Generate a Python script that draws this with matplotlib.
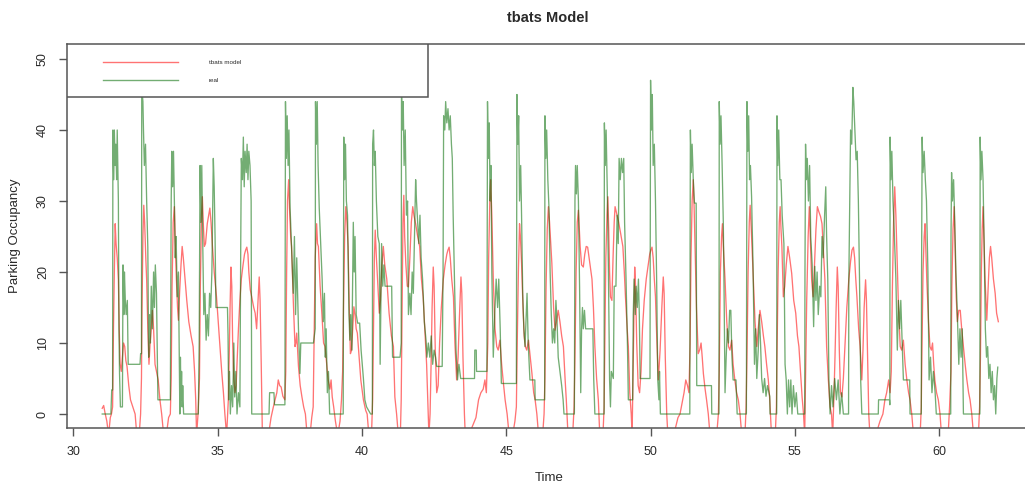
import matplotlib
matplotlib.use("Agg")
import matplotlib.pyplot as plt
from matplotlib.patches import Rectangle
from matplotlib.lines import Line2D

plt.rcParams['font.family'] = ['Liberation Sans', 'DejaVu Sans']

title = "tbats Model"
x_label = "Time"
y_label = "Parking Occupancy"
legend_labels = ["tbats model", "real"]
x_ticks = [30, 35, 40, 45, 50, 55, 60]
y_ticks = [0, 10, 20, 30, 40, 50]

# observed occupancy (time in days, value)
real_series = [
 (31.00,0),(31.30,0),(31.33,3.4),(31.36,3.4),(31.37,40),(31.40,33),(31.42,40),(31.45,35),(31.47,38),(31.50,33),(31.52,40),(31.56,30),(31.58,12),(31.60,5.7),(31.63,1),(31.70,1),(31.72,21),(31.75,14),(31.77,20),(31.80,16),(31.83,14),(31.87,16),(31.90,7),(32.31,7),(32.33,8.5),(32.36,8.5),
 (32.37,46),(32.41,44),(32.43,40),(32.46,35),(32.50,38),(32.54,30),(32.58,23.5),(32.61,8),(32.64,14),(32.67,10),(32.70,18),(32.74,12),(32.78,20),(32.81,15),(32.84,21),(32.88,17),(32.93,2),(33.36,2),
 (33.39,30),(33.41,37),(33.44,32),(33.47,37),(33.50,30),(33.53,22),(33.56,25),(33.60,16.5),(33.64,20),(33.69,0),(33.71,8),(33.73,2),(33.75,6),(33.77,1),(33.79,4),(33.82,0),(34.33,0),
 (34.36,10),(34.39,35),(34.42,27),(34.45,35),(34.48,25),(34.52,14),(34.56,17),(34.60,10.4),(34.64,14),(34.68,11),(34.72,17),(34.76,15),(34.80,20),(34.85,36),(34.88,32),(34.91,25),(34.94,15),(35.34,15),
 (35.36,11),(35.38,2),(35.41,6),(35.44,0),(35.48,4),(35.52,1),(35.56,10),(35.59,2.4),(35.63,6),(35.67,0),(35.72,3),(35.77,1),(35.80,24),(35.82,36),(35.86,33),(35.89,39),(35.92,32),(35.95,37),(35.99,34),(36.02,38),(36.05,33),(36.08,37),(36.12,35),(36.16,30),(36.18,0),
 (36.78,0),(36.80,3),(36.95,3),(36.97,1.3),(37.33,1.3),
 (37.35,44),(37.38,36),(37.41,42),(37.44,35),(37.47,40),(37.51,29),(37.56,23.5),(37.62,17),(37.66,25),(37.70,14),(37.74,22),(37.80,12),(37.85,5.7),(37.88,10),(38.32,10),
 (38.38,12),(38.39,44),(38.42,38),(38.45,44),(38.48,35),(38.52,29),(38.57,24),(38.62,19),(38.66,13),(38.70,17),(38.73,8),(38.76,12),(38.80,3),(38.84,6),(38.88,0),(39.35,0),
 (39.37,39),(39.40,33),(39.43,38),(39.46,30),(39.50,28),(39.55,14),(39.58,10.4),(39.61,14),(39.65,9),(39.70,27),(39.73,20),(39.76,25),(39.80,14),(39.85,12.8),(39.92,12.8),(39.97,9),(40.05,5),(40.10,2),(40.16,1),(40.30,0),
 (40.36,0),(40.37,38),(40.40,40),(40.43,35),(40.46,37),(40.50,30),(40.55,25),(40.60,24),(40.63,7),(40.68,24),(40.72,18),(40.76,21),(40.80,18),(41.03,18),(41.06,8),(41.32,8),
 (41.36,10),(41.37,46),(41.40,40),(41.43,44),(41.46,35),(41.50,40),(41.54,28),(41.58,30),(41.61,14),(41.66,17),(41.70,14),(41.74,20),(41.78,17),(41.82,25),(41.86,33),(41.89,30),(41.93,27),(41.97,24),(42.01,28),(42.05,22),(42.10,19),(42.16,13),(42.22,10.4),
 (42.25,8),(42.30,10),(42.35,8),(42.40,11),(42.45,7),(42.50,9),(42.55,8),(42.59,6.7),(42.78,6.7),(42.81,20),(42.83,42),(42.87,40),(42.90,44),(42.94,41),(42.98,43),(43.02,40),(43.06,42),(43.10,38),(43.13,36),(43.16,28),(43.21,18),(43.26,9),(43.31,4.8),(43.36,7),(43.42,5),(43.90,5),(43.91,9),(43.96,9),(43.97,6),(44.33,6),
 (44.35,44),(44.38,36),(44.41,41),(44.44,30),(44.47,35),(44.50,20),(44.55,8),(44.60,14),(44.65,19),(44.70,15),(44.74,19),(44.79,12),(44.83,4.3),(45.35,4.3),
 (45.37,45),(45.40,38),(45.43,42),(45.46,30),(45.50,35),(45.53,28),(45.57,17),(45.61,12),(45.65,9.5),(45.69,14),(45.72,17),(45.76,10),(45.82,4.8),(45.99,4.8),(46.00,2),(46.33,2),
 (46.34,42),(46.37,36),(46.40,40),(46.44,33),(46.48,29),(46.52,20),(46.56,14),(46.60,10),(46.64,12),(46.68,10),(46.72,16),(46.76,13),(46.80,8),(46.86,6),(46.92,4),(46.97,2),(47.00,0),(47.36,0),
 (47.38,30),(47.40,35),(47.43,31),(47.46,35),(47.50,30),(47.54,18),(47.58,3),(47.61,12),(47.64,15),(47.67,12),(47.71,14.6),(47.75,12),(48.00,12),(48.03,5),(48.07,0),(48.39,0),
 (48.40,41),(48.43,35),(48.46,40),(48.50,31.5),(48.54,20),(48.58,4.8),(48.61,1),(48.64,6),(48.71,5),(48.74,18),(48.80,18),(48.84,28),(48.88,24),(48.91,36),(48.95,33),(48.99,36),(49.03,34),(49.07,36),(49.10,27),(49.15,19),(49.20,9.5),(49.23,2),(49.38,2),(49.40,14),(49.43,19),(49.47,14),(49.50,18),(49.54,15),(49.58,19),(49.61,14),(49.64,5),(49.98,5),
 (49.99,30),(50.00,47),(50.03,40),(50.06,45),(50.09,35),(50.13,38),(50.17,30),(50.21,19),(50.25,4.8),(50.29,2),(50.31,6),(50.34,0),(51.36,0),
 (51.37,25),(51.38,40),(51.41,34),(51.44,38),(51.48,33),(51.52,29.7),(51.58,29.7),(51.60,4),(52.11,4),(52.12,0),(52.37,0),
 (52.38,44),(52.41,38),(52.44,42),(52.48,35),(52.52,27),(52.55,16),(52.58,3),(52.62,8),(52.66,12),(52.70,10),(52.74,14.6),(52.78,14.6),(52.82,8),(52.86,4.8),(52.96,4.8),(53.00,0),(53.32,0),
 (53.34,44),(53.37,37),(53.40,42),(53.43,33),(53.46,35),(53.50,30.6),(53.55,21),(53.60,7),(53.64,12),(53.68,5),(53.73,9),(53.77,14),(53.81,10),(53.85,5),(53.90,3),(53.95,5),(54.00,2.5),(54.05,4),(54.13,2.5),(54.14,0),(54.37,0),
 (54.38,42),(54.41,35),(54.44,40),(54.48,33),(54.52,33),(54.56,28),(54.62,24),(54.66,7),(54.70,4.8),(54.74,0),(54.78,4.8),(54.82,1),(54.86,4.8),(54.90,0),(54.95,4),(55.00,1),(55.05,3),(55.10,0),(55.34,0),
 (55.35,20),(55.37,38),(55.40,33),(55.43,36),(55.47,30),(55.51,35),(55.55,25),(55.60,21),(55.65,12.3),(55.69,20.8),(55.73,16),(55.77,20),(55.81,14),(55.86,18),(55.90,16.5),(55.94,25),(55.98,22),(56.03,28),(56.07,32),(56.10,25),(56.14,19),(56.18,4.8),(56.22,0),(56.27,4),(56.32,1),(56.38,5),(56.44,2),(56.50,4.8),(56.56,0),(56.62,3),(56.68,0),(56.86,0),
 (56.87,19),(56.90,30),(56.93,40),(56.97,38),(57.01,46),(57.04,44),(57.08,40),(57.12,35.8),(57.16,37),(57.20,30),(57.24,19),(57.28,4.8),(57.32,0),(57.89,0),(57.90,2),(58.28,2),
 (58.29,1.3),(58.30,39),(58.33,33),(58.36,37),(58.40,30),(58.44,26),(58.50,19),(58.55,9),(58.59,16),(58.63,12),(58.67,16),(58.72,10),(58.76,4.8),(58.98,4.8),(58.99,0),(59.38,0),
 (59.39,20),(59.41,39),(59.44,34),(59.48,37),(59.52,33),(59.56,30),(59.61,20),(59.65,4.8),(59.70,8),(59.75,3),(59.80,6),(59.86,3),(59.90,0),(60.40,0),
 (60.41,25),(60.43,34),(60.46,30),(60.50,33),(60.54,27),(60.58,20),(60.63,14),(60.68,7),(60.72,12),(60.76,8),(60.80,12),(60.84,0),(61.41,0),
 (61.42,39),(61.45,33),(61.48,37),(61.52,33),(61.56,23.5),(61.60,12),(61.64,8),(61.68,9.5),(61.72,5),(61.76,7),(61.80,3),(61.84,6),(61.88,2),(61.92,4),(61.96,0),(62.00,5),(62.03,6.6),
]

# tbats fitted values (time in days, value)
model_series = [
 (31.00,0.8),(31.05,1.2),(31.10,0.1),(31.16,-1),(31.22,-3),(31.28,-0.5),(31.32,0),(31.36,1),(31.39,12),(31.42,20),(31.45,26.8),(31.48,24),(31.52,22),(31.56,18.9),(31.59,12),(31.62,7.1),(31.66,6),(31.70,8),(31.74,10),(31.78,9.5),(31.82,7.5),(31.86,6.7),(31.92,4),(31.98,2),(32.06,1),(32.14,0),(32.20,-3),(32.28,-3),(32.33,0),(32.36,5),
 (32.38,15),(32.41,25),(32.44,29.4),(32.47,27),(32.51,22),(32.54,18.9),(32.58,12),(32.62,7),(32.66,10),(32.70,12),(32.74,14.6),(32.78,12),(32.83,7),(32.88,6),(32.94,4.8),(33.00,2),(33.06,0),(33.13,-3),(33.22,-3),(33.30,-0.5),(33.36,0),(33.39,5),
 (33.42,18),(33.46,27),(33.50,29.2),(33.53,24),(33.57,19),(33.61,15),(33.64,13.2),(33.68,17),(33.73,21),(33.77,23.6),(33.81,22),(33.87,19),(33.93,16),(34.00,13),(34.08,11),(34.15,9.5),(34.20,6),(34.24,2),(34.27,-3),(34.32,0),(34.37,5),
 (34.40,18),(34.44,28),(34.47,30.6),(34.50,27),(34.54,23.6),(34.58,24),(34.64,26.8),(34.69,28),(34.73,29),(34.77,27),(34.82,23.6),(34.88,20),(34.96,16.5),(35.02,13),(35.08,9.5),(35.14,6),(35.20,3),(35.25,0),(35.31,-3),
 (35.37,2),(35.40,8),(35.43,15),(35.46,20.7),(35.49,18),(35.52,10),(35.56,5),(35.60,3),(35.64,4),(35.68,8),(35.72,12),(35.77,16),(35.82,19),(35.88,21),(35.93,22.5),(35.97,23.1),(36.01,23.5),(36.05,22.5),(36.08,20),(36.13,17.5),(36.18,16.5),(36.25,15),(36.30,14.2),(36.35,12),(36.41,17),(36.44,19.3),(36.47,16),(36.51,7),(36.55,-3),(36.76,-3),(36.85,-0.5),(36.93,1),(36.99,2),(37.05,3),(37.10,4.8),(37.15,4),(37.20,3.8),(37.26,2.5),(37.33,2),
 (37.36,6),(37.39,20),(37.42,30),(37.46,33),(37.49,29),(37.53,25),(37.56,23.6),(37.62,16),(37.68,9.5),(37.71,10),(37.74,11.4),(37.77,9),(37.80,6.7),(37.86,4),(37.92,2.4),(37.98,1),(38.04,0),(38.10,-3),(38.20,-3),(38.26,-0.5),(38.31,1),
 (38.34,10),(38.38,22),(38.43,26.8),(38.46,24),(38.49,23.6),(38.55,18),(38.61,14.2),(38.67,10),(38.72,9.5),(38.78,7),(38.83,4.8),(38.89,3.5),(38.93,4.8),(38.97,2.4),(39.02,1),(39.08,-1),(39.16,-3),(39.24,-1),(39.29,2),(39.33,6),
 (39.36,15),(39.40,25),(39.44,29.2),(39.48,27),(39.52,23.6),(39.56,15),(39.60,8.5),(39.64,9),(39.68,12),(39.72,15.1),(39.76,14),(39.80,12),(39.84,11.4),(39.90,8),(39.96,4.8),(40.05,2),(40.13,0.5),(40.18,0),(40.24,-3),(40.33,-3),(40.37,2),
 (40.40,12),(40.43,22),(40.46,25.9),(40.50,22),(40.54,19),(40.60,14.2),(40.64,16),(40.69,21),(40.74,23.6),(40.79,21),(40.86,19),(40.94,14.2),(41.02,11),(41.09,9.5),(41.14,2.4),(41.20,0),(41.26,-3),(41.33,-3),(41.36,2),
 (41.39,15),(41.42,27),(41.45,30.8),(41.48,25),(41.52,21.2),(41.57,18),(41.61,17.9),(41.66,22),(41.71,27),(41.76,29.2),(41.80,28),(41.86,26.8),(41.93,25),(42.00,23.6),(42.06,19),(42.12,16.5),(42.19,11),(42.24,7),(42.28,2),(42.32,-3),
 (42.36,0),(42.40,8),(42.43,15),(42.47,20.7),(42.50,18),(42.54,9),(42.59,3),(42.64,4),(42.69,10),(42.75,15),(42.82,19),(42.88,21),(42.94,22.5),(42.98,23.1),(43.02,23.5),(43.06,22),(43.11,19),(43.17,16.5),(43.22,10),(43.28,4.8),(43.33,8),(43.38,14),(43.43,19.3),(43.46,17),(43.50,8),(43.55,0),(43.58,-3),(43.65,-3),(43.75,-2.5),(43.85,-1.5),(43.95,-0.5),(44.04,2),(44.12,3),(44.20,3.5),(44.26,4.8),(44.31,3),
 (44.36,10),(44.39,22),(44.43,30),(44.46,33),(44.50,28),(44.55,19),(44.61,12),(44.67,9.5),(44.72,9),(44.78,10.4),(44.84,7),(44.89,4.8),(44.96,2),(45.03,0),(45.10,-3),(45.22,-3),(45.30,-1),(45.35,1),
 (45.38,10),(45.42,20),(45.46,26.8),(45.49,25),(45.53,21.2),(45.58,15),(45.62,11),(45.66,9.5),(45.71,9),(45.77,10.4),(45.83,8),(45.89,5.7),(45.95,3),(46.00,2),(46.06,0),(46.12,-3),(46.26,-3),(46.31,0),
 (46.34,5),(46.38,18),(46.42,26),(46.46,29.2),(46.50,27),(46.54,24),(46.58,21.2),(46.64,15),(46.69,11.8),(46.74,13),(46.80,14.6),(46.86,13),(46.92,11),(46.98,9.5),(47.04,4.8),(47.08,2),(47.14,-3),(47.30,-3),(47.35,1),
 (47.38,8),(47.42,20),(47.46,27),(47.50,28.7),(47.53,26),(47.56,23.6),(47.61,21),(47.67,20.7),(47.72,22.5),(47.77,23.6),(47.82,23.5),(47.87,22),(47.92,20.5),(47.97,19),(48.02,15),(48.07,9.5),(48.13,5),(48.19,2),(48.24,-3),(48.35,-3),(48.39,1),
 (48.42,12),(48.45,22),(48.49,28),(48.52,30.6),(48.55,26),(48.58,20),(48.61,16.5),(48.66,16),(48.70,22),(48.74,27),(48.77,29.2),(48.81,28.5),(48.88,27.3),(48.96,25.5),(49.04,23.6),(49.09,20),(49.13,16.5),(49.19,12),(49.23,9.5),(49.28,3),(49.33,0),(49.36,-3),
 (49.39,5),(49.42,14),(49.45,20.7),(49.48,18),(49.52,10),(49.57,4),(49.62,3),(49.67,6),(49.72,12),(49.78,16),(49.85,19),(49.92,21),(49.97,22.5),(50.01,23.1),(50.05,23.5),(50.09,22),(50.13,19),(50.17,16.5),(50.22,10),(50.27,4.8),(50.33,9),(50.39,15),(50.44,19.3),(50.47,17),(50.51,8),(50.56,0),(50.60,-3),(50.80,-3),(50.95,-0.5),(51.02,0),(51.09,1.5),(51.16,3),(51.22,4.8),(51.28,4),(51.33,3),
 (51.37,10),(51.40,22),(51.44,30),(51.48,33),(51.51,29),(51.54,23.6),(51.59,15),(51.65,8.5),(51.70,9),(51.75,10),(51.79,8),(51.83,5.7),(51.89,3.5),(51.94,2),(52.00,0),(52.06,-3),(52.29,-3),(52.35,0),
 (52.38,6),(52.42,20),(52.46,25),(52.49,26.8),(52.53,23),(52.58,19),(52.64,13),(52.70,9.5),(52.75,9),(52.81,10.4),(52.86,7),(52.92,4.8),(52.98,3),(53.04,2),(53.10,0),(53.16,-3),(53.27,-3),(53.31,1),
 (53.34,8),(53.38,20),(53.42,27),(53.45,29.4),(53.49,26),(53.53,22),(53.56,19),(53.62,13),(53.68,9.5),(53.73,12),(53.79,14.6),(53.85,13),(53.91,11),(53.96,9.5),(54.02,7),(54.08,4.8),(54.13,2),(54.19,-3),(54.32,-3),(54.36,1),
 (54.38,8),(54.42,20),(54.46,27),(54.49,29.2),(54.52,26),(54.55,23.6),(54.60,16.5),(54.65,18),(54.70,21),(54.76,23.6),(54.82,22),(54.89,19.8),(54.96,16),(55.03,14.2),(55.09,11),(55.14,9.5),(55.20,5.7),(55.25,2.4),(55.30,0),(55.34,-3),
 (55.37,5),(55.41,16),(55.46,25),(55.50,29.2),(55.54,24),(55.58,19),(55.63,16.5),(55.68,21),(55.73,26),(55.78,29.2),(55.83,28.5),(55.89,27.8),(55.94,26.8),(55.99,23),(56.04,19),(56.10,9.5),(56.16,4.8),(56.22,1),(56.27,0),(56.31,-3),
 (56.35,2),(56.39,8),(56.43,15),(56.47,20.7),(56.50,18),(56.54,9),(56.58,3),(56.63,2.4),(56.68,5),(56.74,10),(56.80,15),(56.87,19),(56.93,21.5),(56.98,23.1),(57.03,23.5),(57.07,22),(57.11,19),(57.15,16.5),(57.21,12),(57.26,9.5),(57.32,4.8),(57.36,9),(57.40,15),(57.45,18.9),(57.48,16),(57.52,8),(57.56,0),(57.60,-3),(57.80,-3),(57.95,-1),(58.05,0),(58.12,2),(58.18,3),(58.25,4.8),(58.30,3),
 (58.34,6),(58.38,18),(58.42,27),(58.46,32),(58.50,28),(58.53,23.6),(58.59,15),(58.65,9.5),(58.70,9),(58.76,10.4),(58.82,7),(58.88,4.8),(58.94,3),(58.99,2),(59.05,0),(59.11,-3),(59.34,-3),(59.38,1),
 (59.40,8),(59.44,20),(59.48,25),(59.51,26.8),(59.54,23),(59.57,19),(59.63,13),(59.68,9.5),(59.73,9),(59.77,10),(59.81,7),(59.85,4.8),(59.91,3),(59.97,2),(60.03,0),(60.08,-3),(60.31,-3),(60.36,1),
 (60.41,6),(60.44,18),(60.48,26),(60.52,29.2),(60.55,24),(60.59,16.5),(60.63,13),(60.68,14.6),(60.73,14.6),(60.78,12),(60.84,9.5),(60.90,7),(60.96,4.8),(61.02,3),(61.07,2),(61.13,0),(61.19,-3),(61.36,-3),(61.40,1),
 (61.43,8),(61.46,20),(61.49,26),(61.52,29.2),(61.55,25),(61.59,19),(61.65,13.2),(61.70,18),(61.74,22),(61.78,23.6),(61.82,22),(61.88,19),(61.94,17),(61.99,14.2),(62.05,13),
]

real_t = [p[0] for p in real_series]
real_v = [p[1] for p in real_series]
model_t = [p[0] for p in model_series]
model_v = [p[1] for p in model_series]

red = (1.0, 0.0, 0.0, 0.55)
green = (0.0, 0.42, 0.0, 0.55)
frame_col = '#555555'
text_col = '#2a2a2a'

fig = plt.figure(figsize=(10.25, 4.87), dpi=100)
ax = fig.add_axes([0.06537, 0.12115, 0.941, 0.7885])

ax.plot(model_t, model_v, color=red, lw=0.95, zorder=2)
ax.plot(real_t, real_v, color=green, lw=0.95, zorder=3)

ax.set_xlim(29.78, 63.2)
ax.set_ylim(-1.97, 52.11)
ax.set_xticks(x_ticks)
ax.set_yticks(y_ticks)
ax.set_xticklabels([str(v) for v in x_ticks])
ax.set_yticklabels([str(v) for v in y_ticks], rotation=90, va='center')

for s in ax.spines.values():
    s.set_color(frame_col)
    s.set_linewidth(1.1)
ax.tick_params(axis='both', direction='out', length=6, width=1.0, color=frame_col,
               labelsize=9, labelcolor=text_col)
ax.tick_params(axis='x', pad=7)
ax.tick_params(axis='y', pad=7)

ax.set_xlabel(x_label, fontsize=9.5, color=text_col, va='center', ha='center')
ax.xaxis.set_label_coords(0.5, -0.13)
ax.set_ylabel(y_label, fontsize=9.5, color=text_col, va='center', ha='center')
ax.yaxis.set_label_coords(-0.054, 0.5)

fig.text(0.5345, 0.963, title, ha='center', va='center', fontsize=10.5,
         fontweight='bold', color=text_col)

# legend box (top-left, R style)
box = Rectangle((0.0, 0.862), 0.3743, 0.138, transform=ax.transAxes,
                facecolor='white', edgecolor=frame_col, lw=1.1, zorder=5)
ax.add_patch(box)
legend_cols = [red, green]
legend_y = [0.953, 0.906]
for lab, col, yy in zip(legend_labels, legend_cols, legend_y):
    ax.add_line(Line2D([0.0373, 0.1151], [yy, yy], transform=ax.transAxes,
                       color=col, lw=1.0, zorder=6))
    ax.text(0.147, yy, lab, transform=ax.transAxes, fontsize=4.5,
            va='center', ha='left', color=text_col, zorder=6)

fig.savefig("out.png", dpi=100)
